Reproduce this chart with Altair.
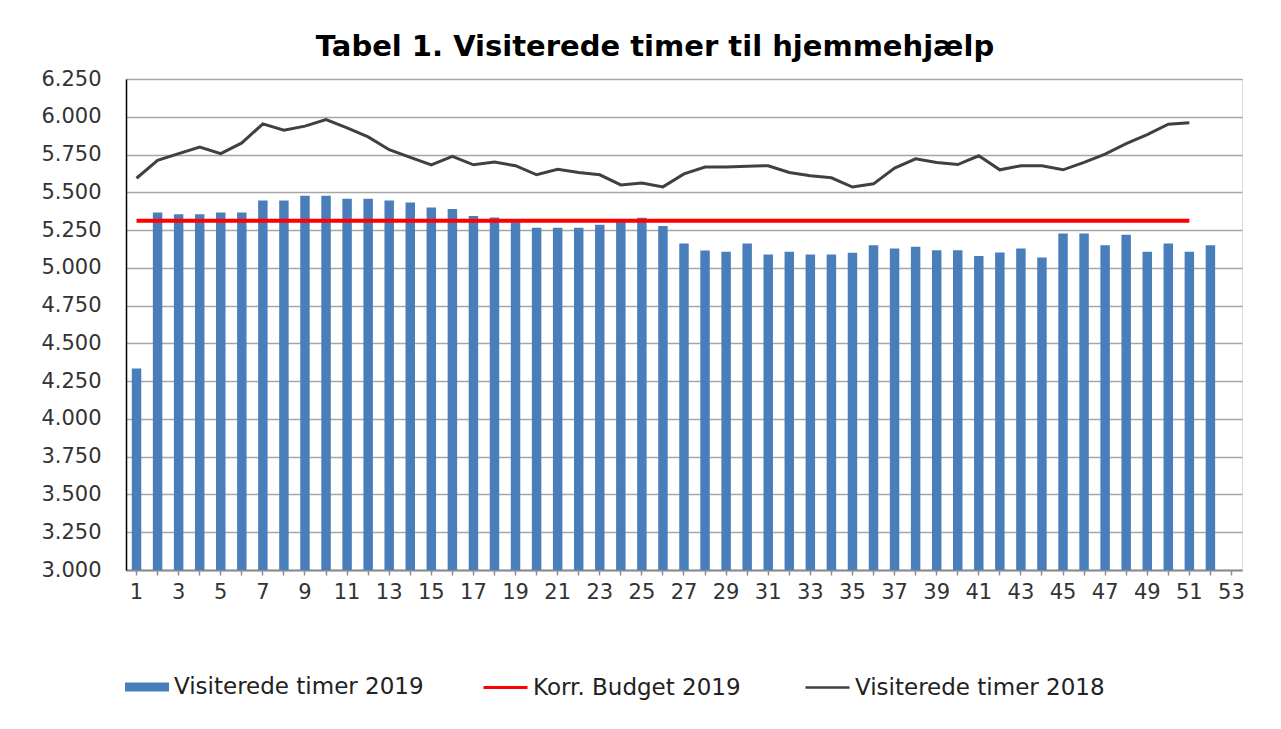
import altair as alt
import pandas as pd

weeks = list(range(1, 54))
visit_2019 = [4333, 5366, 5354, 5354, 5366, 5366, 5446, 5446, 5477, 5477,
              5457, 5457, 5446, 5432, 5400, 5390, 5343, 5334, 5301, 5266,
              5266, 5266, 5286, 5303, 5332, 5277, 5161, 5114, 5106, 5161,
              5088, 5106, 5088, 5088, 5100, 5150, 5128, 5139, 5117, 5117,
              5079, 5101, 5128, 5068, 5228, 5228, 5150, 5219, 5106, 5161,
              5106, 5150]
visit_2018 = [5593, 5711, 5756, 5800, 5756, 5827, 5953, 5911, 5938, 5982,
              5927, 5867, 5782, 5731, 5682, 5738, 5682, 5700, 5676, 5616,
              5653, 5631, 5616, 5549, 5562, 5536, 5622, 5667, 5667, 5673,
              5676, 5631, 5609, 5596, 5535, 5556, 5660, 5722, 5698, 5684,
              5742, 5649, 5676, 5676, 5649, 5698, 5753, 5822, 5882, 5951,
              5960]
budget_weeks = [1, 51]
budget_values = [5312, 5312]
y_ticks = list(range(3000, 6251, 250))

S19 = "Visiterede timer 2019"
SB = "Korr. Budget 2019"
S18 = "Visiterede timer 2018"

df19 = pd.DataFrame({"uge": weeks[:len(visit_2019)], "timer": visit_2019, "serie": S19})
df18 = pd.DataFrame({"uge": weeks[:len(visit_2018)], "timer": visit_2018, "serie": S18})
dfb = pd.DataFrame({"uge": budget_weeks, "timer": budget_values, "serie": SB})

FONT = "DejaVu Sans"

x_enc = alt.X(
    "uge:O",
    scale=alt.Scale(domain=weeks, paddingInner=0.55, paddingOuter=0.275),
    axis=alt.Axis(
        title=None, labelAngle=0, labelOverlap=False,
        labelExpr="datum.value % 2 == 1 ? datum.value : ''",
        labelFont=FONT, labelFontSize=21, labelColor="#333333", labelPadding=6,
        tickColor="#8c8c8c", tickSize=5, tickWidth=1.5,
        domainColor="#8c8c8c", domainWidth=2, grid=False,
    ),
)
y_scale = alt.Scale(domain=[3000, 6250], nice=False, zero=False)
y_axis = alt.Axis(
    title=None, values=y_ticks,
    labelExpr="replace(format(datum.value, ',.0f'), ',', '.')",
    labelFont=FONT, labelFontSize=21, labelColor="#333333", labelPadding=25,
    ticks=False, domainColor="#000000", domainWidth=1.5,
    grid=True, gridColor="#a6a6a6", gridWidth=1.5,
)

def leg(x, stype, size, swidth=None):
    kw = dict(
        title=None, orient="none", legendX=x, legendY=585,
        symbolType=stype, symbolSize=size, labelFont=FONT, labelFontSize=23,
        labelColor="#222222", labelOffset=4, labelLimit=0,
    )
    if swidth is not None:
        kw["symbolStrokeWidth"] = swidth
    return alt.Legend(**kw)

bars = alt.Chart(df19).mark_bar(color="#4a7ebb").encode(
    x=x_enc,
    y=alt.Y("timer:Q", scale=y_scale, axis=y_axis),
    y2=alt.datum(3000),
    color=alt.Color("serie:N", scale=alt.Scale(domain=[S19], range=["#4a7ebb"]),
                    legend=leg(-2, "M-1,-0.2H1V0.2H-1Z", 1936)),
)

budget = alt.Chart(dfb).mark_line(strokeWidth=4).encode(
    x=x_enc,
    y=alt.Y("timer:Q", scale=y_scale, axis=y_axis),
    color=alt.Color("serie:N", scale=alt.Scale(domain=[SB], range=["#ff0000"]),
                    legend=leg(356, "stroke", 1936, 3)),
)

line18 = alt.Chart(df18).mark_line(strokeWidth=3).encode(
    x=x_enc,
    y=alt.Y("timer:Q", scale=y_scale, axis=y_axis),
    color=alt.Color("serie:N", scale=alt.Scale(domain=[S18], range=["#404040"]),
                    legend=leg(678, "stroke", 1936, 2.5)),
)

chart = alt.layer(bars, budget, line18).resolve_scale(color="independent").properties(
    width=1116, height=491,
    autosize=alt.AutoSizeParams(type="none"),
    padding={"left": 118, "top": 71, "right": 20, "bottom": 140},
    title=alt.Title(
        "Tabel 1. Visiterede timer til hjemmehjælp",
        font=FONT, fontSize=29, fontWeight="bold", color="#000000",
        anchor="middle", dx=-29, offset=6,
    ),
).configure_view(stroke="#000000", strokeWidth=1.5).configure(background="white")

chart.save("out.html", embed_options={"renderer": "svg", "actions": False})
